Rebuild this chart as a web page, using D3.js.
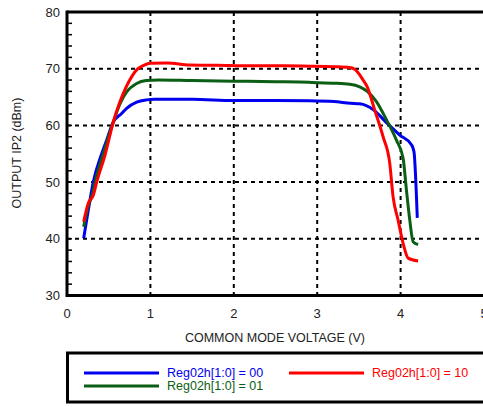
<!DOCTYPE html>
<html><head><meta charset="utf-8">
<script src="https://cdn.jsdelivr.net/npm/d3@7"></script>
<style>
html,body{margin:0;padding:0;background:#fff;}
svg{display:block;font-family:"Liberation Sans",Arial,sans-serif;}
</style></head>
<body><svg id="c" width="483" height="407"></svg>
<script>
const xTicks = [0, 1, 2, 3, 4, 5];
const yTicks = [30, 40, 50, 60, 70, 80];
const seriesNames = ["Reg02h[1:0] = 00", "Reg02h[1:0] = 01", "Reg02h[1:0] = 10"];
const seriesColors = ["#0000ee", "#0a5f14", "#ff0000"];

const vBlue = [0.2, 0.25, 0.315, 0.416, 0.475, 0.555, 0.655, 0.715, 0.835, 0.955, 1.05, 1.5, 2.0, 2.5, 2.9, 3.2, 3.4, 3.51, 3.67, 3.83, 3.99, 4.13, 4.16, 4.2];
const ipBlue = [40.1, 44.6, 50.0, 55.0, 57.4, 60.6, 62.1, 63.0, 64.1, 64.5, 64.6, 64.6, 64.4, 64.4, 64.35, 64.2, 63.9, 63.8, 62.8, 60.5, 58.3, 56.6, 55.4, 43.7];

const vGreen = [0.2, 0.25, 0.3, 0.336, 0.435, 0.555, 0.635, 0.715, 0.835, 0.95, 1.1, 1.5, 2.0, 2.5, 2.9, 3.19, 3.39, 3.51, 3.6, 3.71, 3.83, 3.95, 4.03, 4.07, 4.11, 4.15, 4.21];
const ipGreen = [42.1, 45.6, 47.6, 50.0, 55.0, 60.6, 63.8, 65.9, 67.4, 67.9, 68.0, 67.9, 67.8, 67.7, 67.6, 67.45, 67.25, 66.8, 66.0, 64.2, 61.0, 57.4, 54.2, 48.6, 43.3, 39.5, 39.0];

const vRed = [0.2, 0.256, 0.315, 0.356, 0.46, 0.555, 0.63, 0.7, 0.78, 0.85, 0.92, 1.0, 1.2, 1.47, 1.8, 2.19, 2.6, 2.91, 3.2, 3.39, 3.46, 3.51, 3.55, 3.6, 3.69, 3.79, 3.87, 3.91, 3.97, 4.03, 4.09, 4.21];
const ipRed = [43.0, 46.3, 47.7, 50.0, 55.0, 60.6, 64.0, 66.5, 68.7, 70.0, 70.6, 70.95, 71.0, 70.65, 70.6, 70.5, 70.5, 70.45, 70.35, 70.2, 69.8, 68.9, 68.0, 66.8, 62.7, 58.0, 53.3, 47.4, 43.3, 39.2, 36.6, 36.1];

const svg = d3.select("#c");
const L = 67, R = 484, T = 12, B = 295.5;
const x = d3.scaleLinear().domain([0, 5]).range([L, R]);
const y = d3.scaleLinear().domain([30, 80]).range([B, T]);

// grid
const grid = svg.append("g").attr("stroke", "#000").attr("stroke-width", 2).attr("stroke-dasharray", "4,4");
xTicks.slice(1).forEach(v => grid.append("line").attr("x1", x(v)).attr("x2", x(v)).attr("y1", T).attr("y2", B));
yTicks.slice(1, -1).forEach(v => grid.append("line").attr("x1", L).attr("x2", R).attr("y1", y(v)).attr("y2", y(v)));

// minor ticks on left axis
const minor = d3.range(30, 81, 2);
svg.append("g").selectAll("line").data(minor).join("line")
  .attr("x1", L).attr("x2", L + 5).attr("y1", d => y(d)).attr("y2", d => y(d))
  .attr("stroke", "#000").attr("stroke-width", 1.5);

// series
const line = d3.line().x(d => x(d[0])).y(d => y(d[1])).curve(d3.curveMonotoneX);
const series = [[vBlue, ipBlue], [vGreen, ipGreen], [vRed, ipRed]];
series.forEach((s, i) => {
  const pts = s[0].map((v, k) => [v, s[1][k]]);
  svg.append("path").datum(pts).attr("d", line).attr("fill", "none")
    .attr("stroke", seriesColors[i]).attr("stroke-width", 3).attr("stroke-linejoin", "round");
});

// frame (left, bottom, top)
svg.append("line").attr("x1", L).attr("x2", L).attr("y1", T - 1.5).attr("y2", B + 1.5).attr("stroke", "#000").attr("stroke-width", 3);
svg.append("line").attr("x1", L).attr("x2", 483).attr("y1", B).attr("y2", B).attr("stroke", "#000").attr("stroke-width", 3);
svg.append("line").attr("x1", L).attr("x2", 483).attr("y1", T).attr("y2", T).attr("stroke", "#000").attr("stroke-width", 3);

// tick labels
svg.append("g").selectAll("text").data(yTicks).join("text")
  .attr("x", 60).attr("y", d => y(d)).attr("dy", "0.35em").attr("text-anchor", "end")
  .attr("font-size", 13).attr("fill", "#222").text(d => d);
svg.append("g").selectAll("text").data(xTicks).join("text")
  .attr("x", d => x(d)).attr("y", 313).attr("dy", "0.35em").attr("text-anchor", "middle")
  .attr("font-size", 13).attr("fill", "#222").text(d => d);

// axis titles
svg.append("text").attr("x", 275).attr("y", 338).attr("dy", "0.35em").attr("text-anchor", "middle")
  .attr("font-size", 12.5).attr("fill", "#222").text("COMMON MODE VOLTAGE (V)");
svg.append("text").attr("transform", "translate(17,153) rotate(-90)").attr("dy", "0.35em")
  .attr("text-anchor", "middle").attr("font-size", 12.5).attr("fill", "#222").text("OUTPUT IP2 (dBm)");

// legend
svg.append("rect").attr("x", 67.5).attr("y", 353).attr("width", 430).attr("height", 49)
  .attr("fill", "none").attr("stroke", "#000").attr("stroke-width", 3);
const leg = [[84, 373, 167], [84, 386, 167], [289, 373, 372]];
leg.forEach((p, i) => {
  svg.append("line").attr("x1", p[0]).attr("x2", p[0] + 75).attr("y1", p[1]).attr("y2", p[1])
    .attr("stroke", seriesColors[i]).attr("stroke-width", 3);
  svg.append("text").attr("x", p[2]).attr("y", p[1]).attr("dy", "0.35em").attr("font-size", 12.5)
    .attr("fill", seriesColors[i]).text(seriesNames[i]);
});
</script></body></html>
